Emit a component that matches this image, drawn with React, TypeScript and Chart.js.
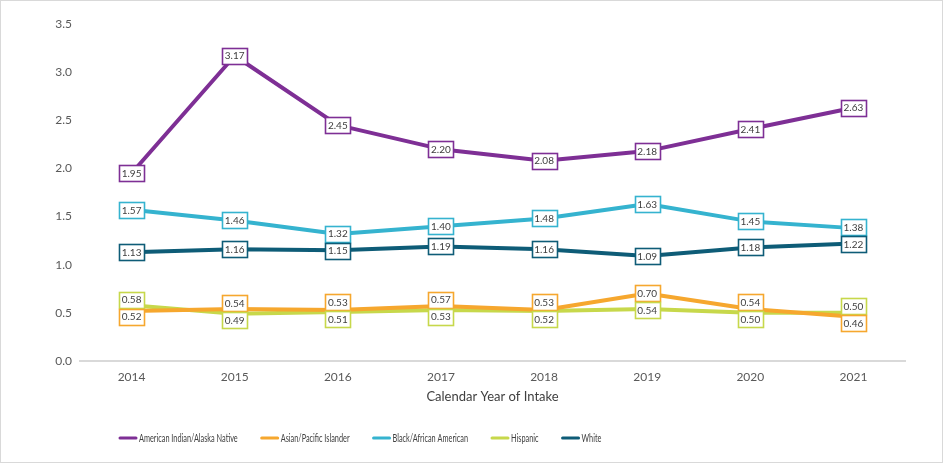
import React, { useEffect, useRef } from "react";
import { Chart, registerables } from "chart.js";

Chart.register(...registerables);

const years = ["2014", "2015", "2016", "2017", "2018", "2019", "2020", "2021"];
const americanIndian = [1.95, 3.17, 2.45, 2.2, 2.08, 2.18, 2.41, 2.63];
const asianPacific = [0.52, 0.54, 0.53, 0.57, 0.53, 0.7, 0.54, 0.46];
const blackAfrican = [1.57, 1.46, 1.32, 1.4, 1.48, 1.63, 1.45, 1.38];
const hispanic = [0.58, 0.49, 0.51, 0.53, 0.52, 0.54, 0.5, 0.5];
const white = [1.13, 1.16, 1.15, 1.19, 1.16, 1.09, 1.18, 1.22];
const yTicks = [0, 0.5, 1, 1.5, 2, 2.5, 3, 3.5];

const seriesNames = [
  "American Indian/Alaska Native",
  "Asian/Pacific Islander",
  "Black/African American",
  "Hispanic",
  "White",
];
const seriesColors = ["#7E2F95", "#F6A72E", "#35B3CF", "#C7D84B", "#0E5C77"];

const FONT = "Lato, 'Open Sans', sans-serif";

const labelPlugin = {
  id: "boxLabels",
  afterDatasetsDraw(chart: any) {
    const ctx = chart.ctx;
    const boxW = 25;
    const boxH = 16;
    const sep = 17;
    const n = chart.data.labels.length;
    for (let i = 0; i < n; i++) {
      const items: any[] = [];
      chart.data.datasets.forEach((ds: any, di: number) => {
        const meta = chart.getDatasetMeta(di);
        const el = meta.data[i];
        if (!el) return;
        items.push({ x: el.x, y: el.y, v: ds.data[i], c: ds.borderColor });
      });
      items.sort((a, b) => a.y - b.y);
      for (let iter = 0; iter < 20; iter++) {
        let moved = false;
        for (let k = 0; k < items.length - 1; k++) {
          const a = items[k];
          const b = items[k + 1];
          const d = b.y - a.y;
          if (d < sep) {
            const push = (sep - d) / 2;
            a.y -= push;
            b.y += push;
            moved = true;
          }
        }
        if (!moved) break;
      }
      items.forEach((it) => {
        ctx.save();
        ctx.fillStyle = "#ffffff";
        ctx.strokeStyle = it.c;
        ctx.lineWidth = 1.6;
        const x0 = Math.round(it.x - boxW / 2) + 0.5;
        const y0 = Math.round(it.y - boxH / 2) + 0.5;
        ctx.fillRect(x0, y0, boxW, boxH);
        ctx.strokeRect(x0, y0, boxW, boxH);
        ctx.fillStyle = "#404040";
        ctx.font = "10px " + FONT;
        ctx.textAlign = "center";
        ctx.textBaseline = "middle";
        ctx.fillText(Number(it.v).toFixed(2), it.x, it.y + 0.5);
        ctx.restore();
      });
    }
  },
};

// Custom legend drawn in a condensed style to match the reference.
const legendPlugin = {
  id: "condensedLegend",
  afterDraw(chart: any) {
    const ctx = chart.ctx;
    const startX = 119;
    const y = 438;
    const lineW = 18;
    const gapText = 2;
    const gapItem = 23;
    const squeeze = 0.61;
    ctx.save();
    ctx.font = "12px " + FONT;
    ctx.textBaseline = "middle";
    ctx.textAlign = "left";
    let x = startX;
    chart.data.datasets.forEach((ds: any) => {
      ctx.strokeStyle = ds.borderColor;
      ctx.lineWidth = 3;
      ctx.lineCap = "round";
      ctx.beginPath();
      ctx.moveTo(x + 1, y);
      ctx.lineTo(x + lineW - 1, y);
      ctx.stroke();
      x += lineW + gapText;
      const w = ctx.measureText(ds.label).width * squeeze;
      ctx.save();
      ctx.translate(x, y);
      ctx.scale(squeeze, 1);
      ctx.fillStyle = "#404040";
      ctx.fillText(ds.label, 0, 0);
      ctx.restore();
      x += w + gapItem;
    });
    ctx.restore();
  },
};

export default function App() {
  const ref = useRef<HTMLCanvasElement | null>(null);
  useEffect(() => {
    document.body.style.margin = "0";
    if (!ref.current) return;
    const seriesData = [americanIndian, asianPacific, blackAfrican, hispanic, white];
    const chart = new Chart(ref.current, {
      type: "line",
      data: {
        labels: years,
        datasets: seriesData.map((d, i) => ({
          label: seriesNames[i],
          data: d,
          borderColor: seriesColors[i],
          backgroundColor: seriesColors[i],
          borderWidth: 4,
          pointRadius: 0,
          tension: 0,
          borderCapStyle: "round",
          borderJoinStyle: "round",
        })),
      },
      options: {
        responsive: false,
        animation: false,
        layout: { padding: { left: 0, right: 39, top: 24, bottom: 50 } },
        scales: {
          x: {
            offset: true,
            grid: { display: false, drawTicks: false },
            border: { display: true, color: "#D9D9D9", width: 2 },
            ticks: { color: "#595959", font: { family: FONT, size: 12 }, padding: 9 },
            title: {
              display: true,
              text: "Calendar Year of Intake",
              color: "#404040",
              font: { family: FONT, size: 13 },
              padding: { top: -4, bottom: 9 },
            },
          },
          y: {
            min: 0,
            max: 3.5,
            afterBuildTicks: (scale: any) => {
              scale.ticks = yTicks.map((v) => ({ value: v }));
            },
            afterFit: (scale: any) => {
              scale.width = 80;
            },
            grid: { display: false, drawTicks: false },
            border: { display: false },
            ticks: {
              color: "#595959",
              font: { family: FONT, size: 12 },
              padding: 8,
              callback: (v: any) => Number(v).toFixed(1),
            },
          },
        },
        plugins: {
          legend: { display: false },
          tooltip: { enabled: false },
        },
      },
      plugins: [labelPlugin, legendPlugin],
    } as any);
    return () => chart.destroy();
  }, []);
  return (
    <div style={{ position: "relative", width: 944, height: 464, background: "#fff" }}>
      <canvas ref={ref} width={944} height={464} style={{ position: "absolute", left: 0, top: 0, width: 944, height: 464 }} />
      <div
        style={{
          position: "absolute",
          left: 0,
          top: 0,
          width: 943,
          height: 463,
          border: "1px solid #D9D9D9",
          boxSizing: "border-box",
          pointerEvents: "none",
        }}
      />
    </div>
  );
}
